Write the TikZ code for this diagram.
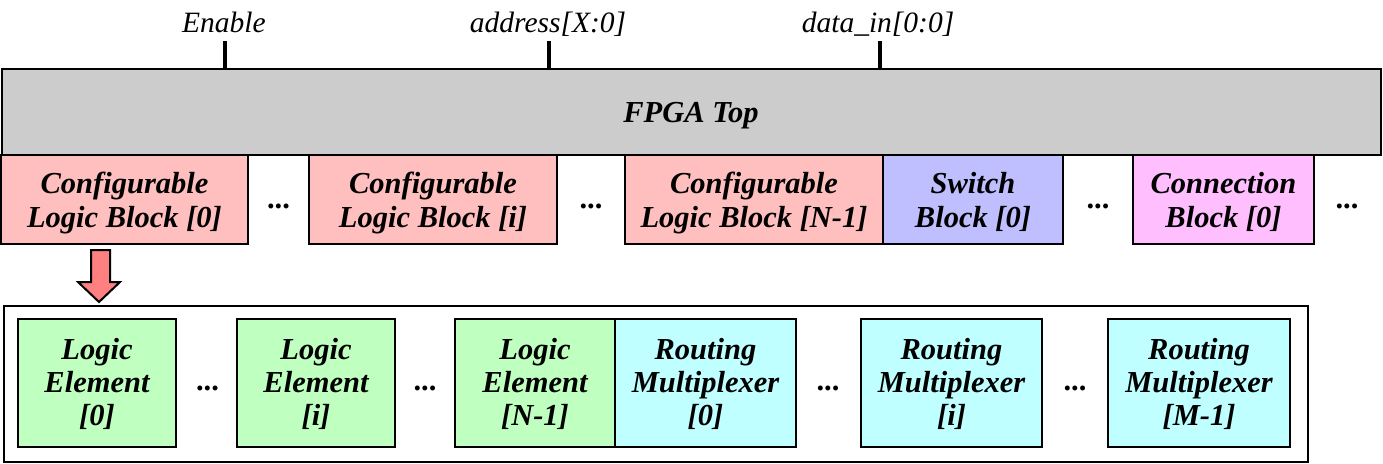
\documentclass[tikz,border=0pt]{standalone}
\usepackage{fontspec}
\setmainfont{Liberation Serif}
\definecolor{topgray}{HTML}{CCCCCC}
\definecolor{clbpink}{HTML}{FFBFBF}
\definecolor{sbblue}{HTML}{BFBFFF}
\definecolor{cbmag}{HTML}{FFBFFF}
\definecolor{legreen}{HTML}{BFFFBF}
\definecolor{rmcyan}{HTML}{BFFFFF}
\definecolor{arrred}{HTML}{FF8080}
\begin{document}
\begin{tikzpicture}[x=1pt,y=-1pt,
  blk/.style={draw=black, line width=2pt, inner sep=0pt, align=center,
    text height=55pt, text depth=0pt,
    font=\fontsize{30.5}{34}\selectfont\bfseries\itshape},
  blkb/.style={blk, text height=84pt, text depth=0pt,
    font=\fontsize{30.5}{33}\selectfont\bfseries\itshape},
  dots/.style={inner sep=0pt, font=\fontsize{30.5}{34}\selectfont\bfseries},
  lbl/.style={inner sep=0pt, anchor=base, font=\fontsize{29.5}{32}\selectfont\itshape},
  tick/.style={line width=3.5pt}]
\useasboundingbox (0,0) rectangle (1383,463);
% top module
\node[blk, text height=20pt, text depth=0pt, fill=topgray, minimum width=1379, minimum height=86] (fpga) at (691,112) {FPGA Top};
% ports
\node[lbl] (en) at (224,32) {Enable};
\node[lbl] (addr) at (548,32) {address[X:0]};
\node[lbl] (din) at (878,32) {data\_in[0:0]};
\draw[tick] (225,41) -- (225,0 |- fpga.north);
\draw[tick] (549,41) -- (549,0 |- fpga.north);
\draw[tick] (880,41) -- (880,0 |- fpga.north);
% block row
\node[blk, fill=clbpink, minimum width=247, minimum height=89] (clb0) at (124.5,199.5) {Configurable\\{}Logic Block [0]};
\node[dots] (d1) at (278.5,206) {...};
\node[blk, fill=clbpink, minimum width=248, minimum height=89] (clbi) at (433,199.5) {Configurable\\{}Logic Block [i]};
\node[dots] (d2) at (591,206) {...};
\node[blk, fill=clbpink, minimum width=258, minimum height=89] (clbn) at (754,199.5) {Configurable\\{}Logic Block [N-1]};
\node[blk, fill=sbblue, minimum width=180, minimum height=89] (sb0) at (973,199.5) {Switch\\{}Block [0]};
\node[dots] (d3) at (1098,206) {...};
\node[blk, fill=cbmag, minimum width=181, minimum height=89] (cb0) at (1223.5,199.5) {Connection\\{}Block [0]};
\node[dots] (d4) at (1347,206) {...};
% arrow
\draw[line width=2pt, fill=arrred, line join=miter]
  (91,250) -- (110,250) -- (110,282) -- (120,282) -- (99,302) -- (78,282) -- (91,282) -- cycle;
% CLB detail
\node[draw=black, line width=2pt, minimum width=1304, minimum height=156, inner sep=0pt] (clbbox) at (656,384) {};
\node[blkb, fill=legreen, minimum width=158, minimum height=128] (le0) at (97,383) {Logic\\{}Element\\{}[0]};
\node[dots] (e1) at (207.5,388) {...};
\node[blkb, fill=legreen, minimum width=158, minimum height=128] (lei) at (316,383) {Logic\\{}Element\\{}[i]};
\node[dots] (e2) at (425,388) {...};
\node[blkb, fill=legreen, minimum width=160, minimum height=128] (len) at (535,383) {Logic\\{}Element\\{}[N-1]};
\node[blkb, fill=rmcyan, minimum width=181, minimum height=128] (rm0) at (705.5,383) {Routing\\{}Multiplexer\\{}[0]};
\node[dots] (e3) at (828,388) {...};
\node[blkb, fill=rmcyan, minimum width=181, minimum height=128] (rmi) at (951.5,383) {Routing\\{}Multiplexer\\{}[i]};
\node[dots] (e4) at (1075,388) {...};
\node[blkb, fill=rmcyan, minimum width=182, minimum height=128] (rmm) at (1199,383) {Routing\\{}Multiplexer\\{}[M-1]};
\end{tikzpicture}
\end{document}
